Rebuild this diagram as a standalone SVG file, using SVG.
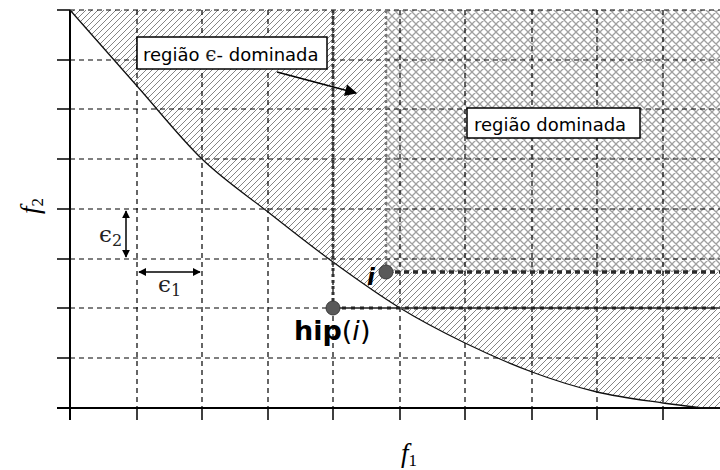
<svg xmlns="http://www.w3.org/2000/svg" width="720" height="470" viewBox="0 0 720 470">
<defs>
  <pattern id="hatch" patternUnits="userSpaceOnUse" width="6" height="6">
    <path d="M-1,7 L7,-1 M-4,4 L4,-4 M2,10 L10,2" stroke="#777" stroke-width="0.9" fill="none"/>
  </pattern>
  <pattern id="cross" patternUnits="userSpaceOnUse" width="8" height="8">
    <rect width="8" height="8" fill="#fff"/>
    <path d="M0,8 L8,0 M-2,2 L2,-2 M6,10 L10,6 M0,0 L8,8 M-2,6 L2,10 M6,-2 L10,2" stroke="#a0a0a0" stroke-width="1.3" fill="none"/>
  </pattern>
  <marker id="ah" viewBox="0 0 10 10" refX="9" refY="5" markerWidth="8" markerHeight="8" markerUnits="userSpaceOnUse" orient="auto-start-reverse">
    <path d="M0,0 L10,5 L0,10 Z" fill="#000"/>
  </marker>
  <marker id="ahb" viewBox="0 0 10 10" refX="9" refY="5" markerWidth="13" markerHeight="12" markerUnits="userSpaceOnUse" orient="auto">
    <path d="M0,0 L10,5 L0,10 Z" fill="#000"/>
  </marker>
</defs>
<style>
  .grid { stroke:#000; stroke-width:1.2; stroke-dasharray:5 4; fill:none; }
  .axis { stroke:#000; stroke-width:2; fill:none; }
  .tick { stroke:#000; stroke-width:1.5; fill:none; }
  .lbl { font-family:"DejaVu Sans", sans-serif; font-size:18px; fill:#000; }
  .box { fill:#fff; stroke:#000; stroke-width:1.5; }
  .math { font-family:"DejaVu Serif", "Liberation Serif", serif; fill:#222; }
  .pt { fill:#595959; stroke:#3a3a3a; stroke-width:1; }
</style>

<g id="regions">
  <path d="M70,10 C81.2,22.7 115,61.2 137,86 C159,110.8 180.2,138 202,159 C223.8,180 246.2,194.8 268,212 C289.8,229.2 311,246 333,262 C355,278 378,294.5 400,308 C422,321.5 443,332.3 465,343 C487,353.7 510,363.8 532,372 C554,380.2 575.2,386.8 597,392 C618.8,397.2 645,400.3 663,403 C681,405.7 698,407.2 705,408 L720,408 L720,10 Z" fill="url(#hatch)"/>
  <rect x="386" y="10" width="334" height="262" fill="url(#cross)"/>
</g>

<g id="grid">
  <path class="grid" d="M70,10 H720 M70,60 H720 M70,109 H720 M70,159 H720 M70,209 H720 M70,259 H720 M70,308 H720 M70,358 H720"/>
  <path class="grid" d="M137,10 V408 M202,10 V408 M268,10 V408 M333,10 V408 M400,10 V408 M465,10 V408 M532,10 V408 M597,10 V408 M663,10 V408"/>
</g>

<g id="axes">
  <path class="axis" d="M70,10 V420 M57,408 H720"/>
  <path class="tick" d="M57,10 H70 M57,60 H70 M57,109 H70 M57,159 H70 M57,209 H70 M57,259 H70 M57,308 H70 M57,358 H70"/>
  <path class="tick" d="M137,408 V420 M202,408 V420 M268,408 V420 M333,408 V420 M400,408 V420 M465,408 V420 M532,408 V420 M597,408 V420 M663,408 V420"/>
</g>

<g id="front">
  <path d="M70,10 C81.2,22.7 115,61.2 137,86 C159,110.8 180.2,138 202,159 C223.8,180 246.2,194.8 268,212 C289.8,229.2 311,246 333,262 C355,278 378,294.5 400,308 C422,321.5 443,332.3 465,343 C487,353.7 510,363.8 532,372 C554,380.2 575.2,386.8 597,392 C618.8,397.2 645,400.3 663,403 C681,405.7 698,407.2 705,408 L720,408" stroke="#111" stroke-width="1.3" fill="none"/>
</g>

<g id="connectors">
  <path d="M333,10 V308" stroke="#333" stroke-width="3" stroke-dasharray="3 3" fill="none"/>
  <path d="M386,10 V272" stroke="#777" stroke-width="2.5" stroke-dasharray="3 3" fill="none"/>
  <path d="M386,272 H720" stroke="#2a2a2a" stroke-width="3.5" stroke-dasharray="5 4" fill="none"/>
  <path d="M333,308 H720" stroke="#555" stroke-width="2" fill="none"/>
  <path d="M333,308 H720" stroke="#222" stroke-width="3" stroke-dasharray="4 5" fill="none"/>
  <path d="M277,72 L356,93" stroke="#000" stroke-width="1.5" fill="none" marker-end="url(#ahb)"/>
  <path d="M126,211 V257" stroke="#000" stroke-width="1.5" fill="none" marker-start="url(#ah)" marker-end="url(#ah)"/>
  <path d="M139,272 H200" stroke="#000" stroke-width="1.5" fill="none" marker-start="url(#ah)" marker-end="url(#ah)"/>
</g>

<g id="label-eps-dominada">
  <rect class="box" x="137" y="37" width="190" height="32"/>
  <text class="lbl" x="143" y="61">região <tspan class="math" fill="#444" font-size="20">ϵ</tspan>- dominada</text>
</g>

<g id="label-dominada">
  <rect class="box" x="467" y="108" width="173" height="30"/>
  <text class="lbl" x="474" y="131">região dominada</text>
</g>

<g id="point-i">
  <circle class="pt" cx="386" cy="272" r="7"/>
  <text x="367" y="285" font-family="DejaVu Sans, sans-serif" font-size="23" font-weight="bold" font-style="italic">i</text>
</g>

<g id="point-hip">
  <circle class="pt" cx="333" cy="308" r="7"/>
  <text x="294" y="340" font-family="DejaVu Sans, sans-serif" font-size="27"><tspan font-weight="bold">hip</tspan>(<tspan font-style="italic">i</tspan>)</text>
</g>

<g id="eps-labels">
  <text class="math" x="99" y="242" font-size="23">ϵ<tspan font-size="16" dy="4">2</tspan></text>
  <text class="math" x="158" y="292" font-size="23">ϵ<tspan font-size="16" dy="4">1</tspan></text>
</g>

<g id="axis-labels">
  <text x="401" y="462" font-family="Liberation Serif, serif" font-size="27" font-style="italic">f<tspan font-size="17" font-style="normal" dy="4">1</tspan></text>
  <text transform="translate(39,214) rotate(-90)" font-family="Liberation Serif, serif" font-size="27" font-style="italic">f<tspan font-size="17" font-style="normal" dy="4">2</tspan></text>
</g>
</svg>
